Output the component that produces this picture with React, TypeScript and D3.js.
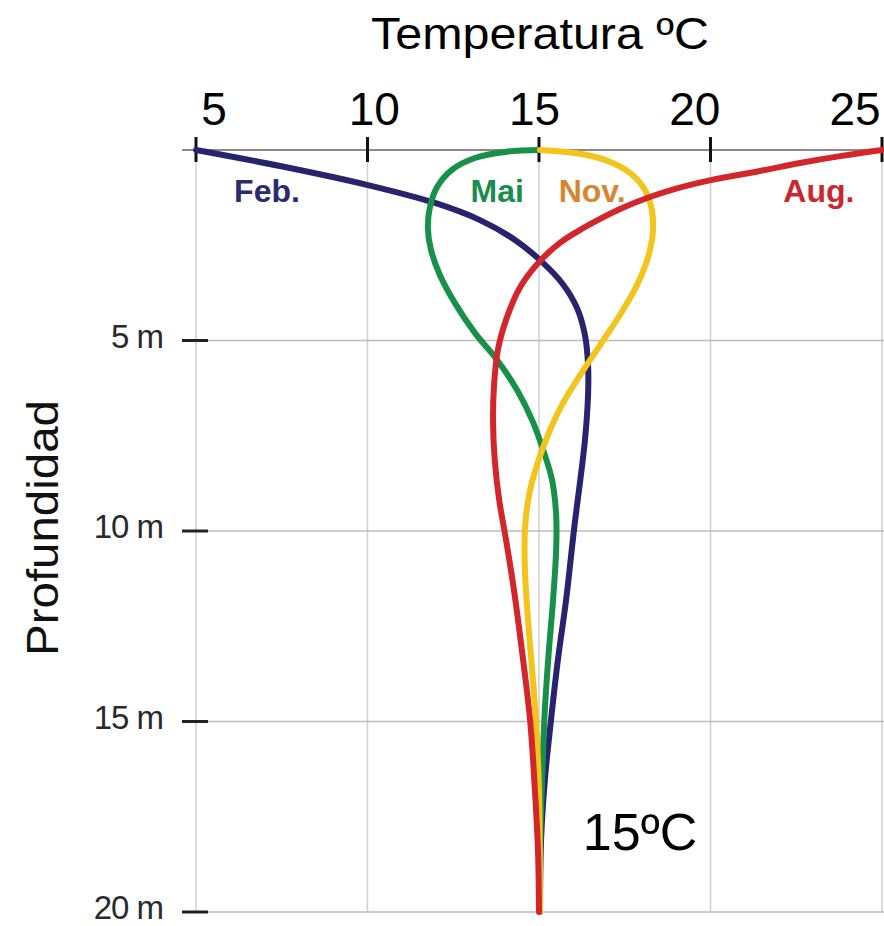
import React from "react";
import * as d3 from "d3";

const W = 884;
const H = 926;

const tempTicks = [5, 10, 15, 20, 25];
const depthTicks = [5, 10, 15, 20];
const depthTickLabels = ["5 m", "10 m", "15 m", "20 m"];

const febT = [5.0, 7.45, 10.01, 11.97, 13.28, 14.3, 15.03, 15.67, 16.11, 16.34, 16.43, 16.43, 16.34, 16.02, 15.79, 15.55, 15.35, 15.17, 15.06, 15.03];
const febD = [0, 0.42, 0.92, 1.39, 1.84, 2.36, 2.89, 3.49, 4.15, 4.86, 5.64, 6.43, 7.61, 9.97, 11.81, 13.39, 14.96, 16.54, 18.11, 20];

const maiT = [15.03, 14.01, 13.13, 12.46, 12.03, 11.82, 11.76, 11.85, 12.11, 12.55, 13.13, 13.78, 14.36, 14.8, 15.12, 15.38, 15.5, 15.5, 15.41, 15.29, 15.17, 15.09, 15.03, 15.03];
const maiD = [0, 0.05, 0.21, 0.52, 0.97, 1.5, 2.05, 2.62, 3.28, 4.02, 4.8, 5.51, 6.3, 7.09, 7.87, 8.66, 9.58, 10.5, 11.81, 13.12, 14.7, 16.54, 18.37, 20];

const novT = [15.03, 16.05, 16.92, 17.65, 18.09, 18.29, 18.32, 18.18, 17.86, 17.36, 16.78, 16.2, 15.67, 15.26, 14.94, 14.71, 14.59, 14.59, 14.68, 14.8, 14.91, 15.0, 15.03];
const novD = [0, 0.08, 0.26, 0.6, 1.05, 1.57, 2.15, 2.81, 3.54, 4.33, 5.12, 5.91, 6.69, 7.48, 8.27, 9.06, 9.97, 11.02, 12.34, 13.65, 14.96, 16.8, 20];

const augT = [25.0, 23.78, 22.61, 21.44, 20.01, 18.97, 18.15, 17.36, 16.78, 16.14, 15.61, 14.97, 14.45, 14.07, 13.8, 13.69, 13.66, 13.71, 13.84, 14.04, 14.27, 14.5, 14.74, 14.88, 14.97, 15.0];
const augD = [0, 0.16, 0.34, 0.55, 0.79, 1.02, 1.26, 1.55, 1.81, 2.13, 2.44, 2.97, 3.6, 4.38, 5.25, 6.17, 7.09, 8.14, 9.19, 10.24, 11.55, 13.12, 14.96, 16.8, 18.37, 20];

const seriesNames = ["Feb.", "Mai", "Nov.", "Aug."];
const seriesT = [febT, maiT, novT, augT];
const seriesD = [febD, maiD, novD, augD];
const lineColors = ["#27236f", "#17914a", "#f2c41c", "#d3262b"];
const labelColors = ["#2a2a6e", "#1a8c4c", "#d8862e", "#c9282e"];
const labelTemps = [7.07, 13.78, 16.55, 23.16];
const labelDepth = 1.365;

const bottomLabel = "15ºC";

export default function App() {
  const x = d3.scaleLinear().domain([5, 25]).range([196, 882]);
  const y = d3.scaleLinear().domain([0, 20]).range([150, 912]);
  const xLab = d3.scaleLinear().domain([5, 25]).range([214, 855]);

  const line = d3
    .line<[number, number]>()
    .x((p) => x(p[0]))
    .y((p) => y(p[1]))
    .curve(d3.curveCatmullRom.alpha(0.5));

  const font = "'Liberation Sans', Arial, Helvetica, sans-serif";

  return (
    <svg
      width={W}
      height={H}
      style={{ position: "absolute", left: 0, top: 0, background: "#fff" }}
      fontFamily={font}
    >
      <rect x={0} y={0} width={W} height={H} fill="#fff" />
      {tempTicks.map((t) => (
        <line key={"vg" + t} x1={x(t)} x2={x(t)} y1={y(0)} y2={y(20)} stroke="#cfcfcf" strokeWidth={1.5} />
      ))}
      {depthTicks.map((d) => (
        <line key={"hg" + d} x1={x(5)} x2={W} y1={y(d)} y2={y(d)} stroke="#bdbdbd" strokeWidth={1.5} />
      ))}
      <line x1={182} x2={x(25)} y1={y(0)} y2={y(0)} stroke="#8a8a8a" strokeWidth={2} />
      {tempTicks.map((t) => (
        <line key={"tt" + t} x1={x(t)} x2={x(t)} y1={y(0) - 13} y2={y(0) + 12} stroke="#111" strokeWidth={3} />
      ))}
      {tempTicks.map((t) => (
        <text key={"tl" + t} x={xLab(t)} y={125} fontSize={46} textAnchor="middle" fill="#000">
          {t}
        </text>
      ))}
      <text x={540} y={49} fontSize={44} textAnchor="middle" fill="#000" textLength={338} lengthAdjust="spacingAndGlyphs">
        Temperatura ºC
      </text>
      {depthTicks.map((d, i) => (
        <g key={"dt" + d}>
          <line x1={182} x2={208} y1={y(d)} y2={y(d)} stroke="#222" strokeWidth={3} />
          <text x={163} y={y(d) + 7} fontSize={33} textAnchor="end" fill="#2a2a2a" letterSpacing={-1}>
            {depthTickLabels[i]}
          </text>
        </g>
      ))}
      <text
        transform={`translate(58, 528) rotate(-90)`}
        fontSize={44}
        textAnchor="middle"
        fill="#111"
        textLength={256}
        lengthAdjust="spacingAndGlyphs"
      >
        Profundidad
      </text>
      {seriesNames.map((n, i) => {
        const pts: [number, number][] = seriesT[i].map((t, j) => [t, seriesD[i][j]]);
        return (
          <path key={"s" + n} d={line(pts) || ""} fill="none" stroke={lineColors[i]} strokeWidth={6} strokeLinecap="round" strokeLinejoin="round" />
        );
      })}
      {seriesNames.map((n, i) => (
        <text
          key={"l" + n}
          x={x(labelTemps[i])}
          y={y(labelDepth)}
          fontSize={32}
          fontWeight="bold"
          textAnchor="middle"
          fill={labelColors[i]}
        >
          {n}
        </text>
      ))}
      <text x={640} y={850} fontSize={52} textAnchor="middle" fill="#000">
        {bottomLabel}
      </text>
    </svg>
  );
}
